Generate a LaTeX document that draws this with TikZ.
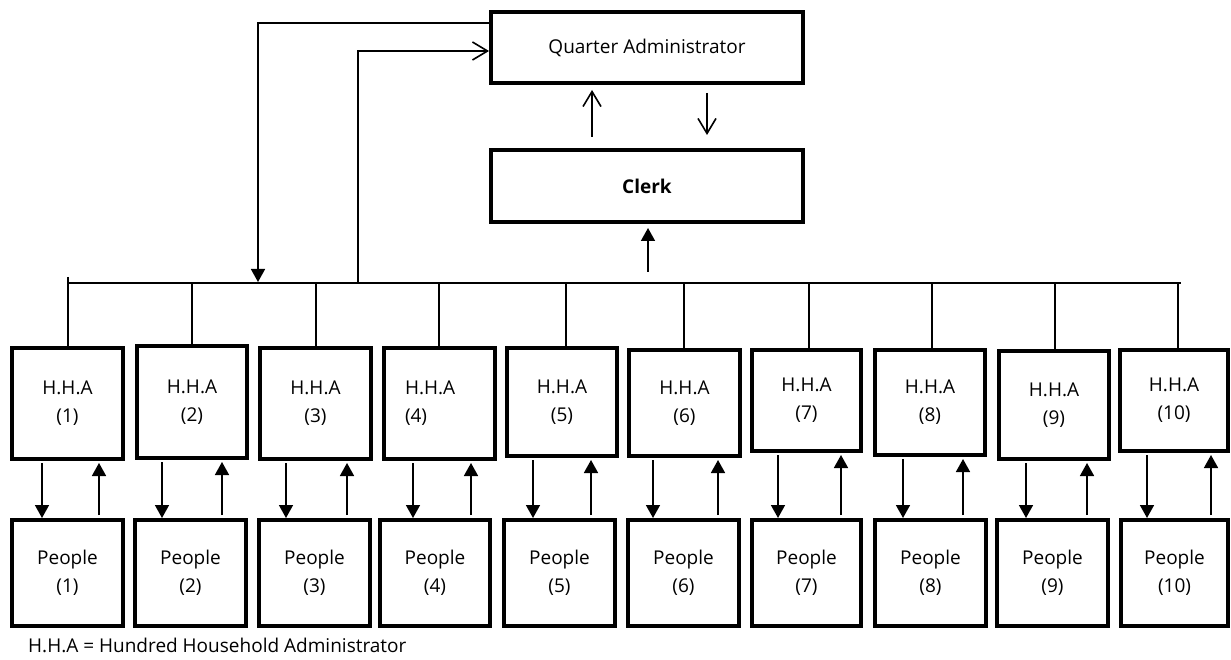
\documentclass[tikz,border=0pt]{standalone}
\usepackage{fontspec}
\setmainfont{Open Sans}
\usetikzlibrary{arrows.meta}
\begin{document}
\begin{tikzpicture}[x=1pt,y=-1pt,
  box/.style={draw,line width=4.2pt,inner sep=0pt,align=center,font=\fontsize{19}{28}\selectfont},
  conn/.style={line width=1.6pt},
  tri/.style={-{Triangle[width=14pt,length=13pt]}},
  barb/.style={-{Straight Barb[width=18pt,length=15pt]}}]
\useasboundingbox (0,0) rectangle (1231,660);

\node[box,minimum width=311.8pt,minimum height=70.8pt] (qa) at (647,47.5) {Quarter Administrator};
\node[box,minimum width=311.8pt,minimum height=71.8pt] (clerk) at (647,186) {\bfseries Clerk};

\coordinate (busL) at (68,283);
\coordinate (busR) at (1181,283);
\draw[conn] (busL) -- (busR);

\foreach \i/\l/\r/\t/\b/\pl/\pr/\dx/\ax/\ux in {
1/10/125/346/461/10/125/68/42/99,
2/135/249/344/460/133/248/192/162/222,
3/258/373/346/461/257/372/316/286/347,
4/382/497/346/461/378/492/439/413/471,
5/505/619/346/458/502/617/566/533/591,
6/627/742/348/458/626/741/684/653/718,
7/750/863/348/453/750/863/809/778/841,
8/873/987/348/457/873/988/932/903/963,
9/997/1111/349/461/995/1110/1055/1026/1087,
10/1118/1230/348/453/1119/1230/1178/1147/1211}{
  \pgfmathsetmacro\cx{(\l+\r)/2}
  \pgfmathsetmacro\cy{(\t+\b)/2}
  \pgfmathsetmacro\w{\r-\l-4.2}
  \pgfmathsetmacro\h{\b-\t-4.2}
  \pgfmathsetmacro\pcx{(\pl+\pr)/2}
  \pgfmathsetmacro\pw{\pr-\pl-4.2}
  \ifnum\i=4
    \node[box,minimum width=\w pt,minimum height=\h pt] (hha\i) at (\cx,\cy) {\makebox[69pt][l]{H.H.A}\\\makebox[69pt][l]{(\i)}};
  \else
    \node[box,minimum width=\w pt,minimum height=\h pt] (hha\i) at (\cx,\cy) {H.H.A\\(\i)};
  \fi
  \node[box,minimum width=\pw pt,minimum height=105.8pt] (ppl\i) at (\pcx,573) {People\\(\i)};
  \draw[conn] (\dx,283) -- (hha\i.north -| \dx,0);
  \draw[conn,tri,shorten <=2pt] (hha\i.south -| \ax,0) -- (ppl\i.north -| \ax,0);
  \draw[conn,tri,shorten <=3pt,shorten >=2pt] (ppl\i.north -| \ux,0) -- (hha\i.south -| \ux,0);
}
\draw[conn] (68,277) -- (busL);

\coordinate (a1) at (258,23);
\draw[conn,tri,shorten >=1pt] (qa.west |- a1) -- (a1) -- (a1 |- busL);
\coordinate (a2) at (358,51);
\draw[conn,barb] (a2 |- busL) -- (a2) -- (qa.west |- a2);

\draw[conn,barb,shorten <=11pt,shorten >=5pt] (clerk.north -| 592,0) -- (qa.south -| 592,0);
\draw[conn,barb,shorten <=8pt,shorten >=13pt] (qa.south -| 707,0) -- (clerk.north -| 707,0);
\draw[conn,tri,shorten <=11pt,shorten >=4pt] (busL -| 648,0) -- (clerk.south -| 648,0);

\node[anchor=base west,font=\fontsize{19}{23}\selectfont,inner sep=0pt] (legend) at (28,652) {H.H.A = Hundred Household Administrator};
\end{tikzpicture}
\end{document}
